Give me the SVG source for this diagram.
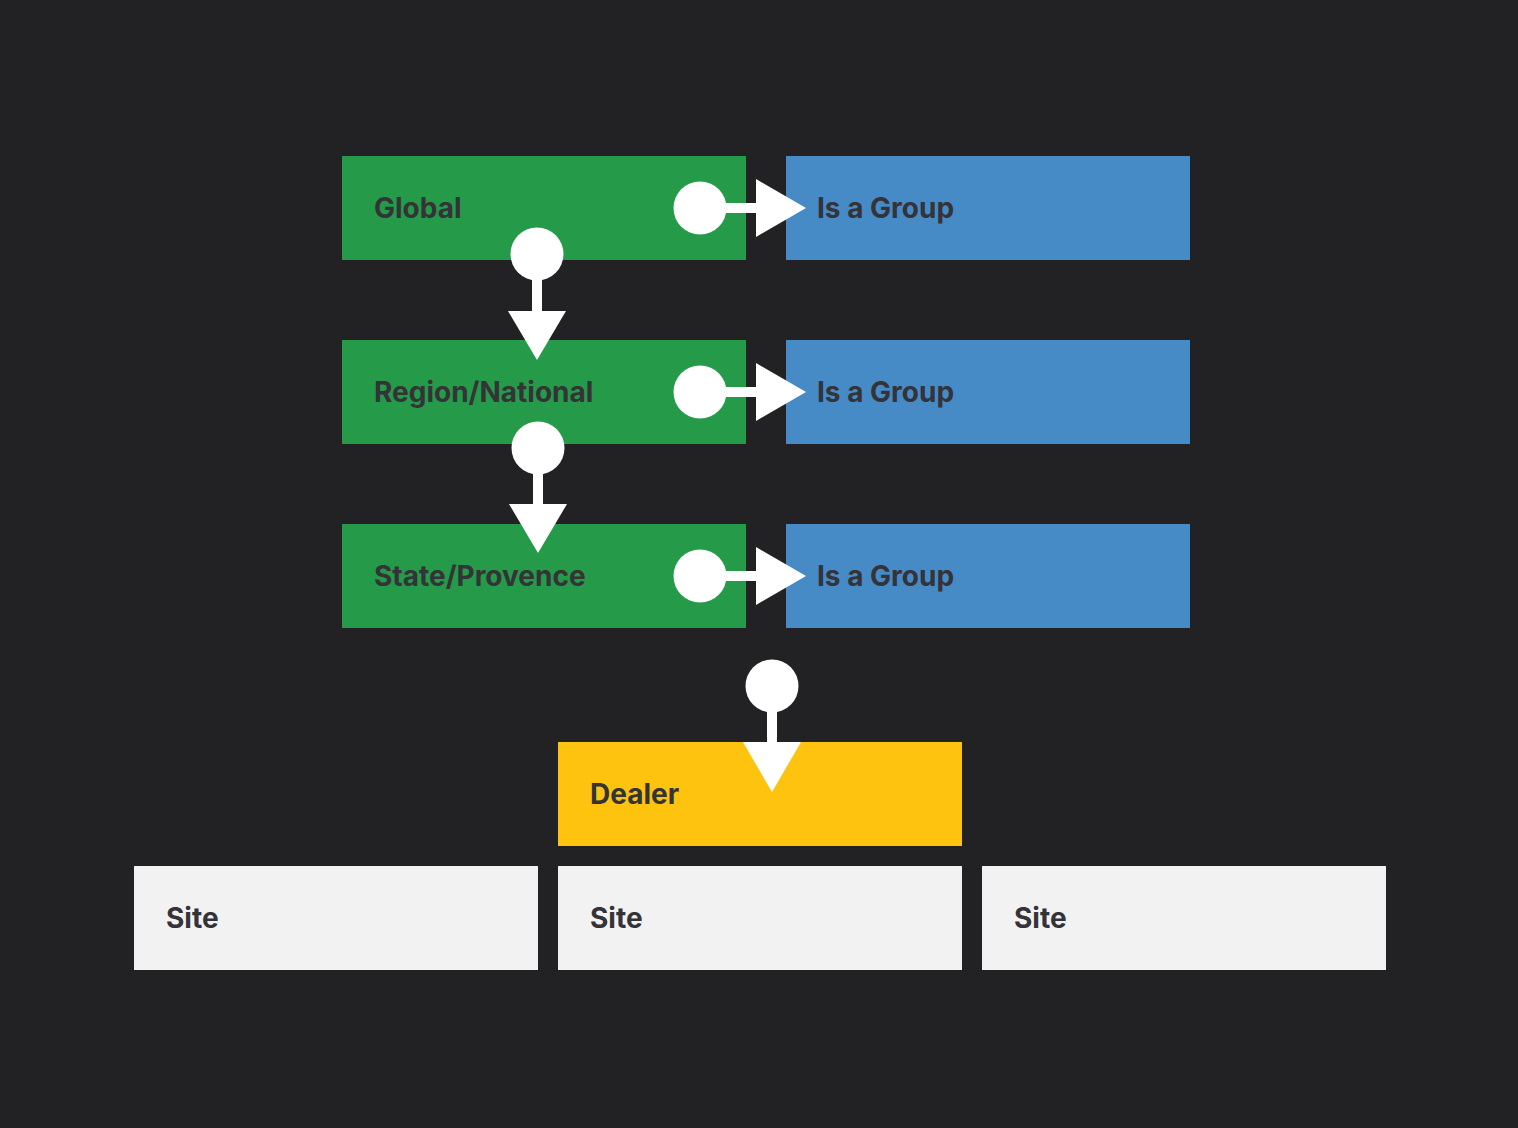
<svg xmlns="http://www.w3.org/2000/svg" width="1518" height="1128" viewBox="0 0 1518 1128">
<style>
.bg{fill:#222224}
.g{fill:#259a48}
.b{fill:#468ac6}
.y{fill:#fec30f}
.s{fill:#f2f2f2}
.t{font-family:Inter,"Liberation Sans",sans-serif;font-weight:700;font-size:28px;fill:#333338}
.w{fill:#ffffff}
.ln{stroke:#ffffff;stroke-width:10;fill:none}
</style>
<rect class="bg" x="0" y="0" width="1518" height="1128"/>
<g id="global"><rect class="g" x="342" y="156" width="404" height="104"/><text class="t" x="374" y="218">Global</text></g>
<g id="group1"><rect class="b" x="786" y="156" width="404" height="104"/><text class="t" x="817" y="218">Is a Group</text></g>
<g id="region"><rect class="g" x="342" y="340" width="404" height="104"/><text class="t" x="374" y="402">Region/National</text></g>
<g id="group2"><rect class="b" x="786" y="340" width="404" height="104"/><text class="t" x="817" y="402">Is a Group</text></g>
<g id="state"><rect class="g" x="342" y="524" width="404" height="104"/><text class="t" x="374" y="586">State/Provence</text></g>
<g id="group3"><rect class="b" x="786" y="524" width="404" height="104"/><text class="t" x="817" y="586">Is a Group</text></g>
<g id="dealer"><rect class="y" x="558" y="742" width="404" height="104"/><text class="t" x="590" y="804">Dealer</text></g>
<g id="site1"><rect class="s" x="134" y="866" width="404" height="104"/><text class="t" x="166" y="928">Site</text></g>
<g id="site2"><rect class="s" x="558" y="866" width="404" height="104"/><text class="t" x="590" y="928">Site</text></g>
<g id="site3"><rect class="s" x="982" y="866" width="404" height="104"/><text class="t" x="1014" y="928">Site</text></g>
<g id="connectors">
<g><circle class="w" cx="700" cy="208" r="26.5"/><line class="ln" x1="700" y1="208" x2="760" y2="208"/><polygon class="w" points="756,179 806,208 756,237"/></g>
<g><circle class="w" cx="700" cy="392" r="26.5"/><line class="ln" x1="700" y1="392" x2="760" y2="392"/><polygon class="w" points="756,363 806,392 756,421"/></g>
<g><circle class="w" cx="700" cy="576" r="26.5"/><line class="ln" x1="700" y1="576" x2="760" y2="576"/><polygon class="w" points="756,547 806,576 756,605"/></g>
<g><circle class="w" cx="537" cy="254" r="26.5"/><line class="ln" x1="537" y1="254" x2="537" y2="315"/><polygon class="w" points="508,311 566,311 537,360"/></g>
<g><circle class="w" cx="538" cy="448" r="26.5"/><line class="ln" x1="538" y1="448" x2="538" y2="508"/><polygon class="w" points="509,504 567,504 538,553"/></g>
<g><circle class="w" cx="772" cy="686" r="26.5"/><line class="ln" x1="772" y1="686" x2="772" y2="746"/><polygon class="w" points="743,742 801,742 772,792"/></g>
</g>
</svg>
